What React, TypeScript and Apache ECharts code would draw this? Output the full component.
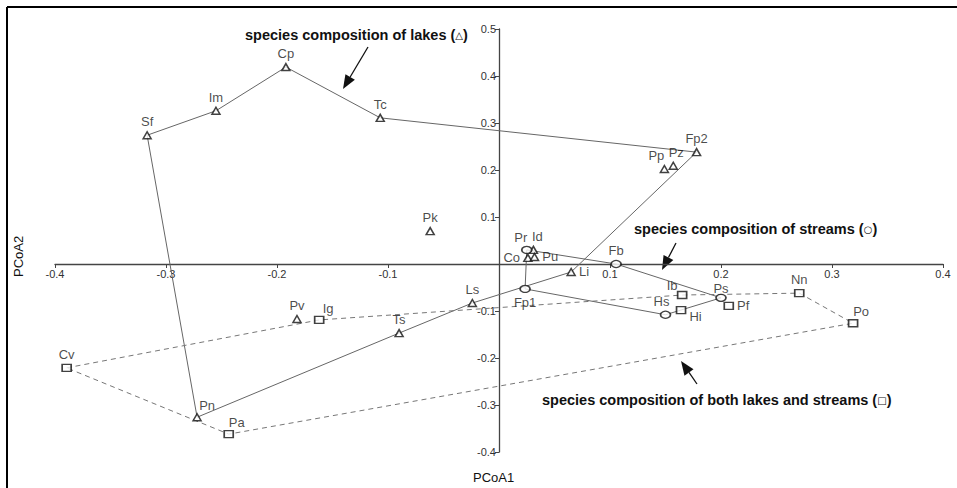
import React, { useEffect, useRef } from "react";
import * as echarts from "echarts";

// ---- data ----
const lakeNames = ["Sf", "Im", "Cp", "Tc", "Fp2", "Pp", "Pz", "Pk", "Id", "Co", "Pu", "Li", "Ls", "Ts", "Pv", "Pn"];
const lakeX = [-0.317, -0.255, -0.192, -0.107, 0.178, 0.149, 0.157, -0.062, 0.031, 0.026, 0.032, 0.065, -0.024, -0.09, -0.182, -0.272];
const lakeY = [0.274, 0.326, 0.419, 0.311, 0.238, 0.202, 0.209, 0.07, 0.03, 0.013, 0.015, -0.017, -0.083, -0.147, -0.117, -0.326];

const streamNames = ["Pr", "Fb", "Ps", "Hs", "Fp1"];
const streamX = [0.025, 0.1055, 0.2, 0.15, 0.0235];
const streamY = [0.03, 0.0, -0.072, -0.108, -0.053];

const bothNames = ["Cv", "Pa", "Ig", "Ib", "Hi", "Pf", "Nn", "Po"];
const bothX = [-0.3895, -0.2435, -0.162, 0.165, 0.164, 0.207, 0.2705, 0.319];
const bothY = [-0.221, -0.362, -0.119, -0.066, -0.098, -0.089, -0.062, -0.126];

const lakeHull = ["Sf", "Im", "Cp", "Tc", "Fp2", "Li", "Ls", "Ts", "Pn", "Sf"];
const streamHull = ["Pr", "Fb", "Ps", "Hs", "Fp1", "Pr"];
const bothHull = ["Cv", "Ig", "Ib", "Nn", "Po", "Pa", "Cv"];

const xTicks = { min: -0.4, max: 0.4, step: 0.1 };
const yTicks = { min: -0.4, max: 0.5, step: 0.1 };

// ---- label placement (style) ----
const labelStyle: Record<string, { position?: string; offset?: number[] }> = {
  Pp: { position: "top", offset: [-8, 0] },
  Pz: { position: "top", offset: [3, 0] },
  Pr: { position: "top", offset: [-6, 1] },
  Id: { position: "top", offset: [4, 0] },
  Co: { position: "left" },
  Pu: { position: "right" },
  Li: { position: "right" },
  Fp1: { position: "bottom" },
  Ig: { position: "top", offset: [9, 2] },
  Pn: { position: "top", offset: [10, 2] },
  Pa: { position: "top", offset: [8, 2] },
  Ib: { position: "top", offset: [-10, 4] },
  Hi: { position: "right", offset: [0, 6] },
  Pf: { position: "right" },
  Po: { position: "top", offset: [8, 2] },
  Hs: { position: "top", offset: [-4, 0] },
  Ps: { position: "top", offset: [0, 4] },
};

const FONT = "Liberation Sans, Arial, sans-serif";
const LINE = "#666";
const W = 957, H = 488;
const GRID = { left: 55, right: 14, top: 29, bottom: 36 };

function lookup(name: string): number[] {
  let i = lakeNames.indexOf(name);
  if (i >= 0) return [lakeX[i], lakeY[i]];
  i = streamNames.indexOf(name);
  if (i >= 0) return [streamX[i], streamY[i]];
  i = bothNames.indexOf(name);
  return [bothX[i], bothY[i]];
}

function points(names: string[], xs: number[], ys: number[]) {
  return names.map((n, i) => {
    const ls = labelStyle[n] || {};
    return {
      name: n,
      value: [xs[i], ys[i]],
      label: { position: ls.position || "top", offset: ls.offset || [0, 0], color: "#1a1a1a" },
    };
  });
}

function arrow(x0: number, y0: number, tx: number, ty: number) {
  const dx = tx - x0, dy = ty - y0;
  const len = Math.sqrt(dx * dx + dy * dy);
  const ux = dx / len, uy = dy / len;
  const hl = 14, hw = 5.5;
  const bx = tx - ux * hl, by = ty - uy * hl;
  const px = -uy, py = ux;
  return [
    { type: "line", shape: { x1: x0, y1: y0, x2: bx, y2: by }, style: { stroke: "#111", lineWidth: 1.3 } },
    {
      type: "polygon",
      shape: { points: [[tx, ty], [bx + px * hw, by + py * hw], [bx - px * hw, by - py * hw]] },
      style: { fill: "#111" },
    },
  ];
}

function annot(text: string, sym: string, x: number, y: number) {
  return {
    type: "text",
    x,
    y,
    style: {
      text: text + " ({s|" + sym + "})",
      font: "bold 14.5px " + FONT,
      fill: "#111",
      verticalAlign: "middle",
      rich: { s: { fontSize: 10, fontWeight: "bold", fill: "#111", fontFamily: "DejaVu Sans" } },
    },
  };
}

export default function App() {
  const ref = useRef<HTMLDivElement>(null);
  useEffect(() => {
    if (!ref.current) return;
    const chart = echarts.init(ref.current, undefined, { renderer: "svg" });
    const fmt = (v: number) => (Math.abs(v) < 1e-9 ? "" : (Math.round(v * 10) / 10).toFixed(1));
    const gw = W - GRID.left - GRID.right;
    const gh = H - GRID.top - GRID.bottom;
    // move the axes so that they cross at the origin (labels and ticks included)
    const xAxisOffset = -gh * ((0 - yTicks.min) / (yTicks.max - yTicks.min));
    const yAxisOffset = -gw * ((0 - xTicks.min) / (xTicks.max - xTicks.min));
    const markerLabel = { show: true, formatter: "{b}", fontSize: 13, color: "#1a1a1a", fontFamily: FONT, distance: 3 };
    const markerItem = { color: "#fff", borderColor: "#111", borderWidth: 1.5 };
    const hullLine = (names: string[], dashed: boolean) => ({
      type: "line",
      data: names.map(lookup),
      symbol: "none",
      silent: true,
      z: 1,
      lineStyle: { color: dashed ? "#777" : LINE, width: 1, type: dashed ? [5, 4] : "solid" },
    });
    chart.setOption({
      animation: false,
      grid: GRID,
      xAxis: {
        type: "value",
        min: xTicks.min,
        max: xTicks.max,
        interval: xTicks.step,
        position: "bottom",
        offset: xAxisOffset,
        splitLine: { show: false },
        axisLine: { onZero: false, lineStyle: { color: "#444", width: 1.3 } },
        axisTick: { length: 4, lineStyle: { color: "#444" } },
        axisLabel: { formatter: fmt, fontSize: 11, color: "#333", fontFamily: FONT, margin: 4 },
      },
      yAxis: {
        type: "value",
        min: yTicks.min,
        max: yTicks.max,
        interval: yTicks.step,
        position: "left",
        offset: yAxisOffset,
        splitLine: { show: false },
        axisLine: { onZero: false, lineStyle: { color: "#444", width: 1.3 } },
        axisTick: { length: 4, lineStyle: { color: "#444" } },
        axisLabel: { formatter: fmt, fontSize: 11, color: "#333", fontFamily: FONT, margin: 3 },
      },
      series: [
        hullLine(lakeHull, false),
        hullLine(streamHull, false),
        hullLine(bothHull, true),
        {
          type: "scatter",
          name: "lakes",
          symbol: "triangle",
          symbolSize: [8, 7],
          z: 3,
          itemStyle: markerItem,
          label: markerLabel,
          data: points(lakeNames, lakeX, lakeY),
        },
        {
          type: "scatter",
          name: "streams",
          symbol: "circle",
          symbolSize: [10, 7],
          z: 3,
          itemStyle: markerItem,
          label: markerLabel,
          data: points(streamNames, streamX, streamY),
        },
        {
          type: "scatter",
          name: "both",
          symbol: "rect",
          symbolSize: [9, 7],
          z: 3,
          itemStyle: markerItem,
          label: markerLabel,
          data: points(bothNames, bothX, bothY),
        },
      ],
      graphic: [
        { type: "line", shape: { x1: 7, y1: 7, x2: 960, y2: 7 }, style: { stroke: "#000", lineWidth: 2 } },
        { type: "line", shape: { x1: 7, y1: 7, x2: 7, y2: 490 }, style: { stroke: "#000", lineWidth: 2 } },
        { type: "text", x: 473, y: 471, style: { text: "PCoA1", font: "13px " + FONT, fill: "#111" } },
        { type: "text", x: 12, y: 277, rotation: Math.PI / 2, style: { text: "PCoA2", font: "13px " + FONT, fill: "#111" } },
        annot("species composition of lakes", "△", 245, 35),
        annot("species composition of streams", "○", 634, 229),
        annot("species composition of both lakes and streams", "□", 542, 400),
        ...arrow(368, 47, 343, 89),
        ...arrow(676, 243, 662, 270),
        ...arrow(697, 384, 681, 361),
      ],
    });
    return () => chart.dispose();
  }, []);
  return <div ref={ref} style={{ position: "fixed", left: 0, top: 0, width: W, height: H, background: "#fff" }} />;
}
